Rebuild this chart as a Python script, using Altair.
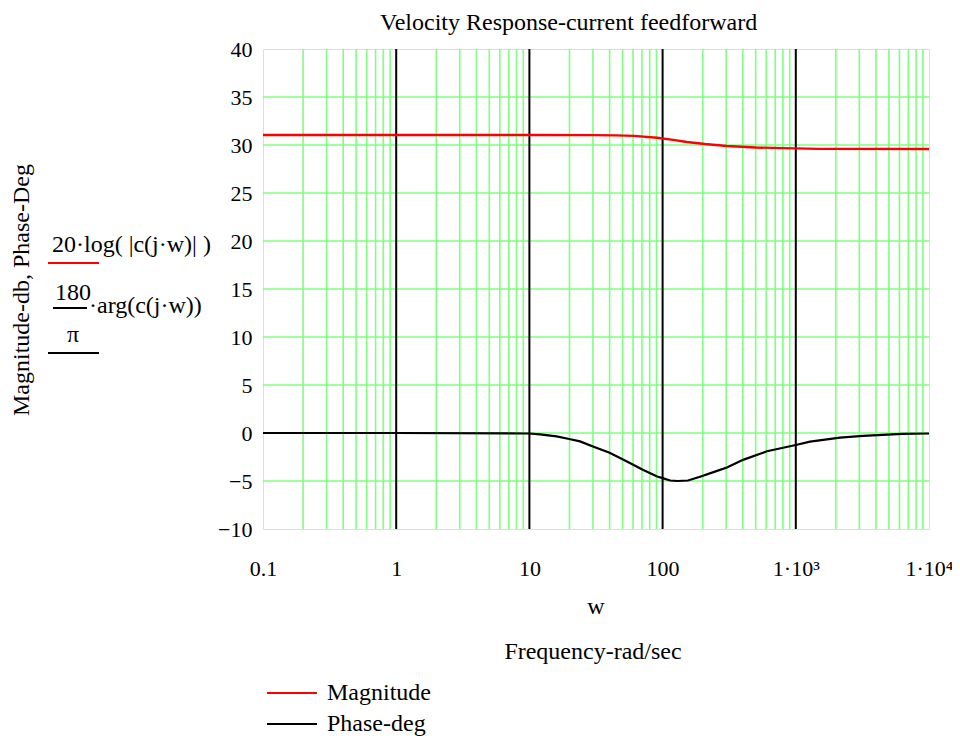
import altair as alt
import pandas as pd

# ---- data ----
mag_w = [0.1, 10, 30, 45, 61, 91, 120, 152, 208, 304, 500, 802, 1500, 10000]
mag_db = [31.04, 31.04, 31.03, 31.0, 30.95, 30.76, 30.54, 30.31, 30.1, 29.9, 29.74, 29.67, 29.6, 29.58]

phase_w = [0.1, 1, 10, 12, 16, 19.5, 24, 30, 40, 54, 71, 91, 100, 114, 130, 155, 191,
           250, 304, 402, 608, 1000, 1279, 2148, 3200, 4500, 6270, 10000]
phase_deg = [0, 0, -0.05, -0.15, -0.35, -0.6, -0.87, -1.4, -2.06, -2.97, -3.83, -4.53, -4.7,
             -4.95, -5.0, -4.95, -4.55, -4.0, -3.6, -2.8, -1.9, -1.25, -0.9, -0.49, -0.3,
             -0.2, -0.1, -0.05]

x_ticks = [0.1, 1, 10, 100, 1000, 10000]
x_tick_labels = ["0.1", "1", "10", "100", "1·10³", "1·10⁴"]
y_ticks = [-10, -5, 0, 5, 10, 15, 20, 25, 30, 35, 40]
h_grid = [-5, 0, 5, 10, 15, 20, 25, 30, 35]
major_w = [1, 10, 100, 1000]
minor_w = [0.2, 0.3, 0.4, 0.5, 0.6, 0.7, 0.8, 0.9,
           2, 3, 4, 5, 6, 7, 8, 9,
           20, 30, 40, 50, 60, 70, 80, 90,
           200, 300, 400, 500, 600, 700, 800, 900,
           2000, 3000, 4000, 5000, 6000, 7000, 8000, 9000]

FONT = "Liberation Serif"
GREEN = "#80ff80"
TFS = 22   # tick labels
FS = 24    # other texts

xscale = alt.Scale(type="log", domain=[0.1, 10000], nice=False)
yscale = alt.Scale(domain=[-10, 40], nice=False, zero=False)

label_expr = " : ".join(
    [f"datum.value == {v} ? '{l}'" for v, l in zip(x_ticks, x_tick_labels)]
) + " : datum.label"

xaxis = alt.Axis(values=x_ticks, labelExpr=label_expr, grid=False, domain=False,
                 ticks=False, labelPadding=46, labelBaseline="alphabetic", title=None,
                 labelFont=FONT, labelFontSize=TFS, labelColor="black", labelFlush=False)
yaxis = alt.Axis(values=y_ticks, grid=False, domain=False, ticks=False, labelPadding=11,
                 title=None, labelFont=FONT, labelFontSize=TFS, labelColor="black")

df_minor = pd.DataFrame({"w": minor_w})
df_major = pd.DataFrame({"w": major_w})
df_h = pd.DataFrame({"v": h_grid})
df_mag = pd.DataFrame({"w": mag_w, "v": mag_db})
df_ph = pd.DataFrame({"w": phase_w, "v": phase_deg})

minor = alt.Chart(df_minor).mark_rule(color=GREEN, strokeWidth=1.6).encode(
    x=alt.X("w:Q", scale=xscale, axis=xaxis))
hgrid = alt.Chart(df_h).mark_rule(color=GREEN, strokeWidth=1.6).encode(
    y=alt.Y("v:Q", scale=yscale, axis=yaxis))
major = alt.Chart(df_major).mark_rule(color="black", strokeWidth=2).encode(
    x=alt.X("w:Q", scale=xscale))
mag = alt.Chart(df_mag).mark_line(color="#ff0000", strokeWidth=2.4).encode(
    x=alt.X("w:Q", scale=xscale), y=alt.Y("v:Q", scale=yscale))
ph = alt.Chart(df_ph).mark_line(color="black", strokeWidth=2.2).encode(
    x=alt.X("w:Q", scale=xscale), y=alt.Y("v:Q", scale=yscale))

one = alt.Data(values=[{"a": 1}])


def txt(s, x, y, align="center", angle=0, size=FS, baseline="middle"):
    return alt.Chart(one).mark_text(text=s, align=align, baseline=baseline, angle=angle,
                                    font=FONT, fontSize=size, color="black").encode(
        x=alt.value(x), y=alt.value(y))


def hline(x1, x2, y, color):
    return alt.Chart(one).mark_rule(color=color, strokeWidth=2).encode(
        x=alt.value(x1), x2=alt.value(x2), y=alt.value(y))


# origin of the plot area is at page pixel (263, 49)
annot = [
    txt("Velocity Response-current feedforward", 117, -19, align="left", size=24,
        baseline="alphabetic"),
    txt("Magnitude-db, Phase-Deg", -241, 241, angle=270),
    txt("20·log( |c(j·w)| )", -211, 196, align="left"),
    hline(-215, -164, 214, "#ff0000"),
    txt("180", -190, 244),
    hline(-210, -176, 259, "black"),
    txt("·arg(c(j·w))", -174, 257, align="left"),
    txt("π", -190, 286),
    hline(-215, -164, 304, "black"),
    txt("w", 333, 558),
    txt("Frequency-rad/sec", 330, 603),
    hline(4, 54, 644, "#ff0000"),
    txt("Magnitude", 64, 644, align="left"),
    hline(4, 54, 675, "black"),
    txt("Phase-deg", 64, 675, align="left"),
]

chart = alt.layer(minor, hgrid, major, mag, ph, *annot).properties(
    width=666, height=480,
    autosize=alt.AutoSizeParams(type="none"),
    padding={"left": 255, "top": 41, "right": 23, "bottom": 209},
).configure_view(stroke="black", strokeWidth=2).configure(background="white")

chart.save("out.html", embed_options={"renderer": "svg", "actions": False})
